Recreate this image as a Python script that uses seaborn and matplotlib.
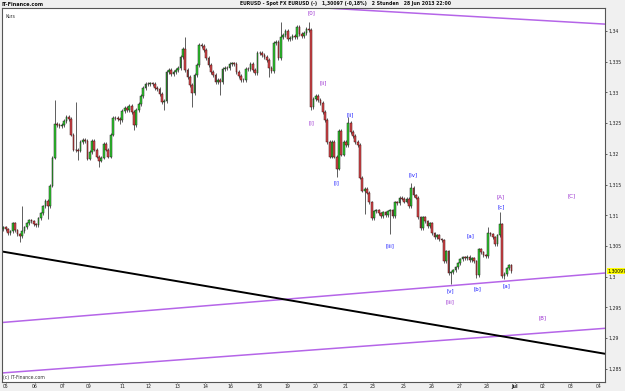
import numpy as np
import pandas as pd
import matplotlib
matplotlib.use("Agg")
import matplotlib.pyplot as plt
import seaborn as sns

# ---------------- data (EURUSD, 2-hour candles, 5 Jun - 28 Jun 2013) ----------------
closes = [
    1.30802, 1.30769, 1.30704, 1.30737, 1.30867, 1.30753, 1.30688, 1.30656, 1.30737, 1.30802,
    1.30867, 1.30916, 1.30899, 1.30851, 1.30834, 1.30948, 1.31029, 1.31143, 1.31240, 1.31143,
    1.31484, 1.31938, 1.32490, 1.32474, 1.32458, 1.32474, 1.32539, 1.32604, 1.32571, 1.32312,
    1.32068, 1.32060, 1.32052, 1.32198, 1.32230, 1.32214, 1.31922, 1.32035, 1.32214, 1.32068,
    1.31954, 1.31889, 1.31938, 1.32165, 1.32068, 1.31954, 1.32312, 1.32588, 1.32580, 1.32571,
    1.32555, 1.32701, 1.32750, 1.32717, 1.32782, 1.32685, 1.32474, 1.32717, 1.32815, 1.32945,
    1.33075, 1.33140, 1.33135, 1.33145, 1.33140, 1.33075, 1.33058, 1.32977, 1.32847, 1.32864,
    1.33334, 1.33367, 1.33302, 1.33334, 1.33367, 1.33399, 1.33578, 1.33708, 1.33367, 1.33253,
    1.33123, 1.32994, 1.33286, 1.33448, 1.33773, 1.33756, 1.33691, 1.33562, 1.33448, 1.33334,
    1.33286, 1.33172, 1.33205, 1.33165, 1.33383, 1.33399, 1.33390, 1.33464, 1.33470, 1.33460,
    1.33334, 1.33269, 1.33205, 1.33200, 1.33383, 1.33375, 1.33464, 1.33367, 1.33318, 1.33643,
    1.33640, 1.33610, 1.33578, 1.33529, 1.33399, 1.33351, 1.33805, 1.33821, 1.33562, 1.33903,
    1.33935, 1.34000, 1.33870, 1.33886, 1.33919, 1.33903, 1.34065, 1.33951, 1.33919, 1.33968,
    1.34032, 1.34016, 1.32766, 1.32896, 1.32945, 1.32880, 1.32831, 1.32685, 1.32555, 1.32198,
    1.31954, 1.32198, 1.31954, 1.31760, 1.32376, 1.31987, 1.32198, 1.32149, 1.32506, 1.32360,
    1.32295, 1.32198, 1.32149, 1.31614, 1.31403, 1.31435, 1.31370, 1.31208, 1.30948, 1.31062,
    1.31078, 1.31029, 1.30981, 1.31046, 1.30997, 1.31062, 1.31078, 1.30981, 1.31208, 1.31200,
    1.31289, 1.31273, 1.31224, 1.31273, 1.31143, 1.31451, 1.31322, 1.31289, 1.30964, 1.30786,
    1.30964, 1.30899, 1.30818, 1.30867, 1.30704, 1.30639, 1.30672, 1.30607, 1.30591, 1.30250,
    1.30412, 1.30055, 1.30071, 1.30103, 1.30152, 1.30217, 1.30282, 1.30315, 1.30310, 1.30320,
    1.30266, 1.30299, 1.30250, 1.30022, 1.30445, 1.30396, 1.30347, 1.30340, 1.30704, 1.30688,
    1.30639, 1.30526, 1.30672, 1.30851, 1.30006, 1.30039, 1.30136, 1.30185, 1.30097,
]
first_open = 1.30770

# long wicks (candle index -> price)
wick_highs = {8: 1.31159, 22: 1.32880, 31: 1.32847, 78: 1.33903, 84: 1.33805,
              119: 1.34146, 126: 1.34097, 131: 1.34146, 148: 1.32604, 175: 1.31532,
              208: 1.30802, 213: 1.31046}
wick_lows = {7: 1.30558, 19: 1.30932, 32: 1.31906, 41: 1.31792, 50: 1.32490,
             56: 1.32393, 69: 1.32717, 81: 1.32766, 93: 1.32961, 114: 1.33253,
             132: 1.32717, 143: 1.31630, 155: 1.31013, 166: 1.30688, 192: 1.29876,
             203: 1.29974, 215: 1.29957}

# trend lines (candle index, price)
upper_purple_x = [-1, 259]
upper_purple_y = [1.34677, 1.34109]
mid_purple_x = [-1, 259]
mid_purple_y = [1.29254, 1.30063]
low_purple_x = [-1, 259]
low_purple_y = [1.28433, 1.29163]
black_x = [-1, 259]
black_y = [1.30413, 1.28741]

# day labels and the candle index where each day begins
day_labels = ["05", "06", "07", "09", "11", "12", "13", "14", "16", "18", "19", "20",
              "21", "23", "25", "26", "27", "28", "Jul", "02", "03", "04"]
day_index = [1.1, 13.5, 25.5, 36.7, 50.9, 62.4, 74.5, 86.5, 97.6, 109.7, 121.7, 134.1,
             147.0, 158.6, 171.9, 183.9, 195.9, 207.5, 219.5, 231.5, 243.5, 255.6]

price_ticks = [1.285, 1.29, 1.295, 1.30, 1.305, 1.31, 1.315, 1.32, 1.325, 1.33, 1.335, 1.34]
price_tick_labels = ["1,285", "1,29", "1,295", "1,3", "1,305", "1,31", "1,315", "1,32",
                     "1,325", "1,33", "1,335", "1,34"]
last_price = 1.30097

# Elliott wave labels: text, candle index, price, group
wave_text = ["[0]", "[i]", "[ii]", "[ii]", "[i]", "[iv]", "[iii]", "[v]", "[iii]",
             "[a]", "[b]", "[c]", "[A]", "[a]", "[B]", "[C]"]
wave_idx = [132.3, 132.3, 137.0, 148.7, 143.0, 175.8, 165.9, 191.6, 191.6,
            200.6, 203.5, 213.5, 213.5, 215.7, 231.5, 243.6]
wave_price = [1.34287, 1.32511, 1.33151, 1.32636, 1.31528, 1.31662, 1.30498, 1.29768, 1.29592,
              1.30661, 1.29807, 1.31131, 1.31300, 1.29849, 1.29325, 1.31310]
wave_group = ["major", "major", "major", "minor", "minor", "minor", "minor", "minor", "major",
              "minor", "minor", "minor", "major", "minor", "major", "major"]

# ---------------- figure ----------------
sns.set_theme(style="white")
plt.rcParams["font.family"] = ["DejaVu Sans"]

W, H = 625, 391
fig = plt.figure(figsize=(W / 100, H / 100), dpi=100)
fig.patch.set_facecolor("#f0f0f0")
ax = fig.add_axes([2 / W, (H - 382) / H, 603 / W, 374 / H])
ax.set_facecolor("white")

n = len(closes)
idx = np.arange(n)
c = np.array(closes)
o = np.concatenate([[first_open], c[:-1]])
pad = 0.00030
hi = np.maximum(o, c) + pad
lo = np.minimum(o, c) - pad
for k, v in wick_highs.items():
    hi[k] = v
for k, v in wick_lows.items():
    lo[k] = v

df = pd.DataFrame({"i": idx, "open": o, "close": c, "high": hi, "low": lo})
up = df["close"] >= df["open"]

ax.vlines(df["i"], df["low"], df["high"], color="#444444", linewidth=0.6, zorder=2)
body_bottom = np.minimum(df["open"], df["close"])
body_h = np.maximum(np.abs(df["close"] - df["open"]), 0.00004)
ax.bar(df["i"][up], body_h[up], bottom=body_bottom[up], width=0.75,
       color="#2fd22f", edgecolor="#1a1a1a", linewidth=0.35, zorder=3)
ax.bar(df["i"][~up], body_h[~up], bottom=body_bottom[~up], width=0.75,
       color="#d9474b", edgecolor="#3a1010", linewidth=0.35, zorder=3)

# trend lines through seaborn
purple = "#b565e8"
sns.lineplot(x=upper_purple_x, y=upper_purple_y, ax=ax, color=purple, linewidth=1.1, zorder=1)
sns.lineplot(x=mid_purple_x, y=mid_purple_y, ax=ax, color=purple, linewidth=1.1, zorder=1)
sns.lineplot(x=low_purple_x, y=low_purple_y, ax=ax, color=purple, linewidth=1.1, zorder=1)
sns.lineplot(x=black_x, y=black_y, ax=ax, color="black", linewidth=1.4, zorder=1)

# wave labels
for t, xi, yp, g in zip(wave_text, wave_idx, wave_price, wave_group):
    col = "#9a2fd0" if g == "major" else "#1a1aff"
    ax.text(xi, yp, t, color=col, fontsize=4.0, ha="center", va="center", zorder=5)

ax.set_xlim(-0.64, 258.15)
ax.set_ylim(1.28287, 1.34373)

ax.yaxis.tick_right()
ax.set_yticks(price_ticks)
ax.set_yticklabels(price_tick_labels)
ax.set_xticks(day_index)
ax.set_xticklabels(day_labels)
for lab in ax.get_xticklabels():
    if lab.get_text() == "Jul":
        lab.set_fontweight("bold")
ax.tick_params(axis="y", which="both", right=True, length=1.5, width=0.5, pad=1,
               labelsize=3.3, colors="#222222")
ax.tick_params(axis="x", which="both", bottom=True, length=1, width=0.5, pad=0.6,
               labelsize=3.3, colors="#222222")
ax.set_xlabel("")
ax.set_ylabel("")
for s in ax.spines.values():
    s.set_color("#555555")
    s.set_linewidth(0.8)

# last price box
ax.text(1.0035, last_price, "1,30097", transform=ax.get_yaxis_transform(),
        fontsize=3.3, ha="left", va="center", color="black",
        bbox=dict(boxstyle="square,pad=0.12", facecolor="#ffff00", edgecolor="none"))

ax.text(0.005, 0.985, "Kurs", transform=ax.transAxes, fontsize=3.3, va="top", ha="left",
        color="#333333")
ax.text(0.002, 0.006, "(c) IT-Finance.com", transform=ax.transAxes, fontsize=3.3,
        va="bottom", ha="left", color="#333333")

fig.text(2 / W, 1 - 1.5 / H, "IT-Finance.com", fontsize=3.6, fontweight="bold",
         va="top", ha="left", color="#111111")
fig.text(240 / W, 1 - 1.5 / H,
         "EURUSD - Spot FX EURUSD (-)   1,30097 (-0,18%)   2 Stunden   28 Jun 2013 22:00",
         fontsize=3.3, fontweight="bold", va="top", ha="left", color="#111111")

fig.savefig("out.png", dpi=100, facecolor=fig.get_facecolor())
